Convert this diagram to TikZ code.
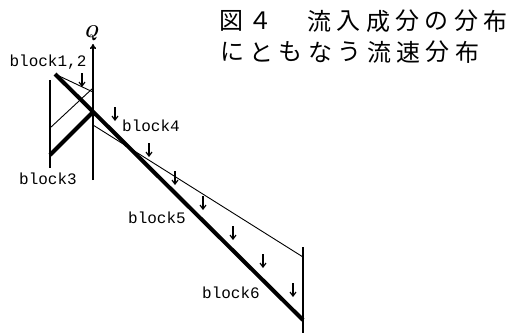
\documentclass[tikz,border=0pt]{standalone}
\usepackage{fontspec}
\usetikzlibrary{arrows.meta}
\newfontfamily\cjk{Noto Sans CJK JP}
\newfontfamily\mono{Liberation Mono}
\tikzset{
  thickline/.style={line width=4pt},
  thinline/.style={line width=0.9pt},
  vline/.style={line width=1.6pt},
  flow/.style={line width=1.2pt,-{Straight Barb[length=4pt,width=6pt]}},
  lbl/.style={inner sep=0pt,font=\mono\fontsize{16}{16}\selectfont},
  title/.style={inner sep=0pt,font=\cjk\fontsize{24}{24}\selectfont}
}
\begin{document}
\begin{tikzpicture}[x=1pt,y=-1pt]
\useasboundingbox (0,0) rectangle (521,333);
% coordinates
\coordinate (axB) at (93,180);
\coordinate (axT) at (93,44);
\coordinate (lvT) at (50,80);
\coordinate (lvB) at (50,168);
\coordinate (rvT) at (303,247);
\coordinate (rvB) at (303,333);
\coordinate (mS) at (55,74);
\coordinate (mE) at (303,320);
\coordinate (b3S) at (50,155);
\coordinate (b3E) at (93,112);
\coordinate (aS) at (57,75);
\coordinate (aE) at (93,92);
\coordinate (bS) at (50,128);
\coordinate (bE) at (93,88);
\coordinate (cS) at (93,125);
\coordinate (cE) at (303,257);
% axis
\draw[vline,-{To[length=5pt,width=6pt]}] (axB) -- (axT);
\node[inner sep=0pt,font=\fontsize{17}{17}\selectfont\bfseries\itshape] (Q) at (91,33) {Q};
% verticals
\draw[vline] (lvT) -- (lvB);
\draw[vline] (rvT) -- (rvB);
% thick lines
\draw[thickline] (mS) -- (mE);
\draw[thickline] (b3S) -- (b3E);
% thin lines
\draw[thinline] (aS) -- (aE);
\draw[thinline] (bS) -- (bE);
\draw[thinline] (cS) -- (cE);
% flow arrows
\foreach \i/\x/\y in {1/82/80,2/115/114,3/149/150,4/175/178,5/203/203,6/233/233,7/263/261,8/293/290}{
  \coordinate (f\i a) at (\x,\y-7);
  \coordinate (f\i b) at (\x,\y+7);
  \draw[flow] (f\i a) -- (f\i b);
}
% labels
\node[lbl] (l12) at (48,62) {block1,2};
\node[lbl] (l3) at (48,179) {block3};
\node[lbl] (l4) at (151,126) {block4};
\node[lbl] (l5) at (157,218) {block5};
\node[lbl] (l6) at (231,293) {block6};
% title, one character per cell
\foreach \i/\c in {0/図,1/４,3/流,4/入,5/成,6/分,7/の,8/分,9/布}{
  \node[title] (ta\i) at (231+29.4*\i,21) {\c};
}
\foreach \i/\c in {0/に,1/と,2/も,3/な,4/う,5/流,6/速,7/分,8/布}{
  \node[title] (tb\i) at (232+29.4*\i,52) {\c};
}
\end{tikzpicture}
\end{document}
